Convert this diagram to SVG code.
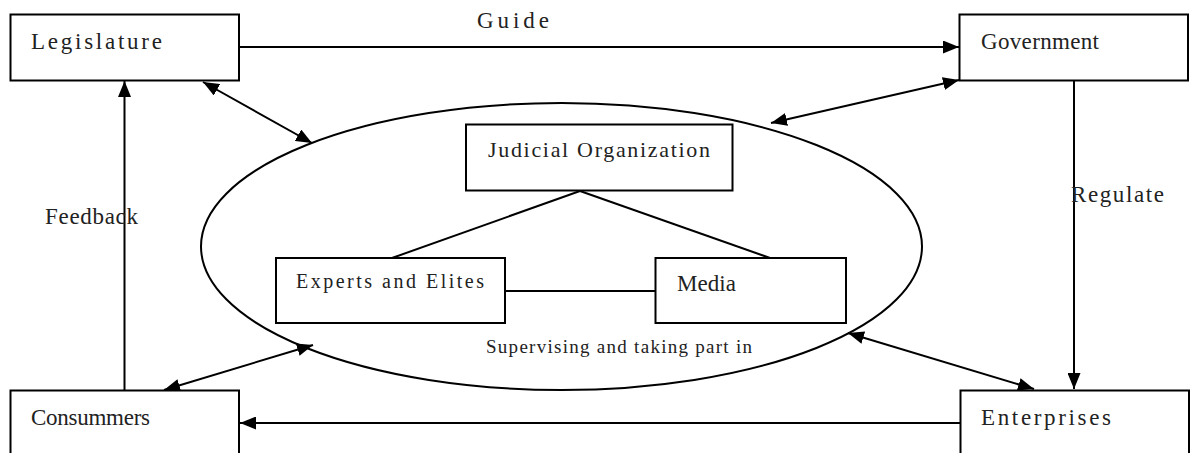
<svg xmlns="http://www.w3.org/2000/svg" width="1203" height="453" viewBox="0 0 1203 453">
<style>
.box{fill:#fff;stroke:#000;stroke-width:2}
.ln{fill:none;stroke:#000;stroke-width:2}
.t{font-family:"Liberation Serif",serif;fill:#222}
.big{font-size:23px}
.mid{font-size:22px}
.sm{font-size:20px}
.xs{font-size:19px}
</style>
<defs>
<marker id="ah" markerUnits="userSpaceOnUse" markerWidth="16" markerHeight="13" refX="16" refY="6.5" orient="auto-start-reverse">
<path d="M0,0 L16,6.5 L0,13 z" fill="#000"/>
</marker>
</defs>
<rect width="1203" height="453" fill="#fff"/>
<g id="ellipse">
<ellipse class="ln" cx="561.5" cy="246.5" rx="360.5" ry="143.5"/>
<text class="t xs" x="486" y="353" textLength="266" lengthAdjust="spacing">Supervising and taking part in</text>
</g>
<g id="connectors">
<line class="ln" x1="239" y1="47" x2="959" y2="47" marker-end="url(#ah)"/>
<line class="ln" x1="771" y1="123" x2="959" y2="80" marker-start="url(#ah)" marker-end="url(#ah)"/>
<line class="ln" x1="203" y1="82" x2="312" y2="143" marker-start="url(#ah)" marker-end="url(#ah)"/>
<line class="ln" x1="124.5" y1="390" x2="124.5" y2="81" marker-end="url(#ah)"/>
<line class="ln" x1="1074" y1="80" x2="1074" y2="389" marker-end="url(#ah)"/>
<line class="ln" x1="164" y1="390" x2="313" y2="345" marker-start="url(#ah)" marker-end="url(#ah)"/>
<line class="ln" x1="848" y1="333" x2="1034" y2="389" marker-start="url(#ah)" marker-end="url(#ah)"/>
<line class="ln" x1="960" y1="423" x2="240" y2="423" marker-end="url(#ah)"/>
<line class="ln" x1="580" y1="191" x2="392" y2="258"/>
<line class="ln" x1="580" y1="191" x2="770" y2="258"/>
<line class="ln" x1="505" y1="291" x2="655" y2="291"/>
<text class="t big" x="477" y="28" textLength="72" lengthAdjust="spacing">Guide</text>
<text class="t big" x="45" y="224" textLength="93" lengthAdjust="spacing">Feedback</text>
<text class="t big" x="1071" y="202" textLength="93" lengthAdjust="spacing">Regulate</text>
</g>
<g id="legislature">
<rect class="box" x="10.5" y="14.5" width="228.5" height="66"/>
<text class="t big" x="31" y="49" textLength="131" lengthAdjust="spacing">Legislature</text>
</g>
<g id="government">
<rect class="box" x="959.5" y="14.5" width="228.5" height="66"/>
<text class="t big" x="981" y="49" textLength="118" lengthAdjust="spacing">Government</text>
</g>
<g id="consumers">
<rect class="box" x="10.5" y="390.5" width="228.5" height="80"/>
<text class="t big" x="31" y="425" textLength="119" lengthAdjust="spacing">Consummers</text>
</g>
<g id="enterprises">
<rect class="box" x="960.5" y="390.5" width="228.5" height="80"/>
<text class="t big" x="981" y="425" textLength="130" lengthAdjust="spacing">Enterprises</text>
</g>
<g id="judicial">
<rect class="box" x="466" y="124.5" width="266.5" height="66"/>
<text class="t mid" x="488" y="157" textLength="222" lengthAdjust="spacing">Judicial Organization</text>
</g>
<g id="experts">
<rect class="box" x="276" y="258" width="229" height="65"/>
<text class="t sm" x="296" y="288" textLength="188" lengthAdjust="spacing">Experts and Elites</text>
</g>
<g id="media">
<rect class="box" x="655.5" y="258" width="190.5" height="65"/>
<text class="t big" x="677" y="291" textLength="59" lengthAdjust="spacing">Media</text>
</g>
</svg>
